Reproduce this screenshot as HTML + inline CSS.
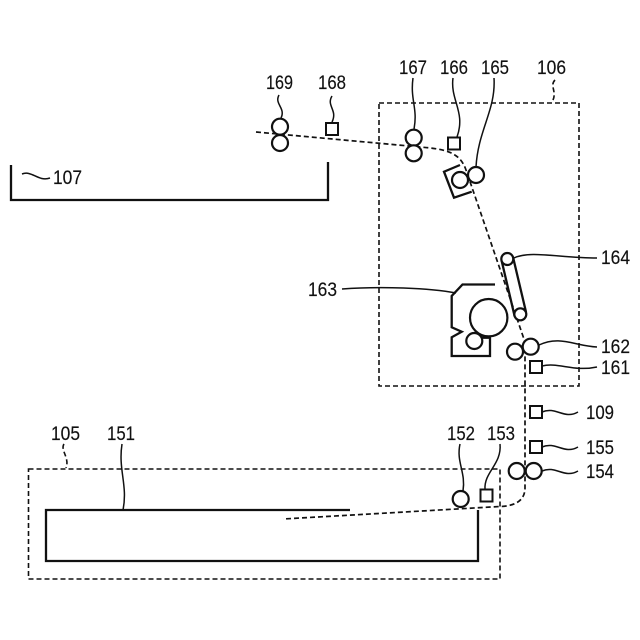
<!DOCTYPE html>
<html>
<head>
<meta charset="utf-8">
<style>
html,body{margin:0;padding:0;background:#fff;}
svg{display:block;}
text{font-family:"Liberation Sans",sans-serif;font-size:19px;fill:#111;stroke:#111;stroke-width:0.15;}
</style>
</head>
<body>
<svg width="640" height="640" viewBox="0 0 640 640" xmlns="http://www.w3.org/2000/svg">
<rect width="640" height="640" fill="#fff"/>
<!-- dashed frames -->
<g fill="none" stroke="#111" stroke-width="1.6" stroke-dasharray="5 3">
<rect x="379" y="103" width="200" height="283"/>
<rect x="28.5" y="469" width="471.5" height="110"/>
<path d="M555 80C549 86 558 92 552 102"/>
<path d="M64 444C60 450 70 458 66 468"/>
</g>
<!-- paper path -->
<path d="M256 132L420 147C445 149 460 152 466 170L525 342V488C525 500 516 506 500 506.500L283 519" fill="none" stroke="#111" stroke-width="1.7" stroke-dasharray="5 3"/>
<!-- trays -->
<g fill="none" stroke="#111" stroke-width="2.3">
<path d="M11 165V200H328V162"/>
<path d="M350 510H46V561H478V510"/>
<path d="M495 284.500H462.500L451.700 296V327.300L461.700 331.700L451.700 337.300V356H490V337.700H480"/>
<path d="M460 165L444 171.700L454 197.700L471.700 191.700"/>
<path d="M501.700 261L514.700 316.500M513 257L526 312"/>
</g>
<!-- rollers -->
<g fill="#fff" stroke="#111" stroke-width="2.200">
<circle cx="280" cy="126.700" r="8"/>
<circle cx="280" cy="143" r="8"/>
<circle cx="413.700" cy="137.700" r="8"/>
<circle cx="413.700" cy="153.300" r="8"/>
<circle cx="460" cy="180" r="8"/>
<circle cx="476" cy="175" r="8"/>
<circle cx="507.300" cy="259" r="6"/>
<circle cx="520.300" cy="314.300" r="6"/>
<circle cx="488.700" cy="317.700" r="18.700"/>
<circle cx="474.300" cy="341" r="8"/>
<circle cx="515" cy="351.700" r="8"/>
<circle cx="530.700" cy="346.700" r="8"/>
<circle cx="516.700" cy="471" r="8"/>
<circle cx="533.700" cy="471" r="8"/>
<circle cx="460.700" cy="499" r="8"/>
</g>
<!-- sensors -->
<g fill="#fff" stroke="#111" stroke-width="2">
<rect x="326" y="123" width="12" height="12"/>
<rect x="448" y="137.500" width="12" height="12"/>
<rect x="530" y="361" width="12" height="12"/>
<rect x="530" y="406" width="12" height="12"/>
<rect x="530" y="441" width="12" height="12"/>
<rect x="480.500" y="489.500" width="12" height="12"/>
</g>
<!-- leader lines -->
<g fill="none" stroke="#111" stroke-width="1.500">
<path d="M279 95C274 104 286 108 281 118"/>
<path d="M332 96C326 106 338 110 332 122"/>
<path d="M413 78C410 100 418 108 414 129"/>
<path d="M453 78C450 100 466 112 457 137"/>
<path d="M494 78C496 110 478 130 476 167"/>
<path d="M22 174C32 170 38 182 50 178"/>
<path d="M514 258C530 250 560 258 597 258"/>
<path d="M342 289C380 286 430 288 456 293"/>
<path d="M539 345C560 335 575 346 597 347"/>
<path d="M542 366C558 362 574 372 597 367"/>
<path d="M542 412C556 406 564 420 578 412"/>
<path d="M542 447C556 441 564 455 578 447"/>
<path d="M542 471C556 465 564 479 578 471"/>
<path d="M460 444C456 462 466 472 463 491"/>
<path d="M500 444C502 464 484 472 485 489"/>
<path d="M122 444C118 470 128 485 123 510"/>
</g>
<!-- labels -->
<g>
<text x="266" y="89" textLength="27" lengthAdjust="spacingAndGlyphs">169</text>
<text x="318" y="89" textLength="28" lengthAdjust="spacingAndGlyphs">168</text>
<text x="399" y="74" textLength="28" lengthAdjust="spacingAndGlyphs">167</text>
<text x="440" y="74" textLength="28" lengthAdjust="spacingAndGlyphs">166</text>
<text x="481" y="74" textLength="28" lengthAdjust="spacingAndGlyphs">165</text>
<text x="537" y="74" textLength="29" lengthAdjust="spacingAndGlyphs">106</text>
<text x="53" y="184" textLength="29" lengthAdjust="spacingAndGlyphs">107</text>
<text x="601" y="264" textLength="29" lengthAdjust="spacingAndGlyphs">164</text>
<text x="308" y="296" textLength="29" lengthAdjust="spacingAndGlyphs">163</text>
<text x="601" y="353" textLength="29" lengthAdjust="spacingAndGlyphs">162</text>
<text x="601" y="374" textLength="29" lengthAdjust="spacingAndGlyphs">161</text>
<text x="586" y="419" textLength="28" lengthAdjust="spacingAndGlyphs">109</text>
<text x="586" y="454" textLength="28" lengthAdjust="spacingAndGlyphs">155</text>
<text x="586" y="478" textLength="28" lengthAdjust="spacingAndGlyphs">154</text>
<text x="447" y="440" textLength="28" lengthAdjust="spacingAndGlyphs">152</text>
<text x="487" y="440" textLength="28" lengthAdjust="spacingAndGlyphs">153</text>
<text x="51" y="440" textLength="29" lengthAdjust="spacingAndGlyphs">105</text>
<text x="107" y="440" textLength="28" lengthAdjust="spacingAndGlyphs">151</text>
</g>
</svg>
</body>
</html>
